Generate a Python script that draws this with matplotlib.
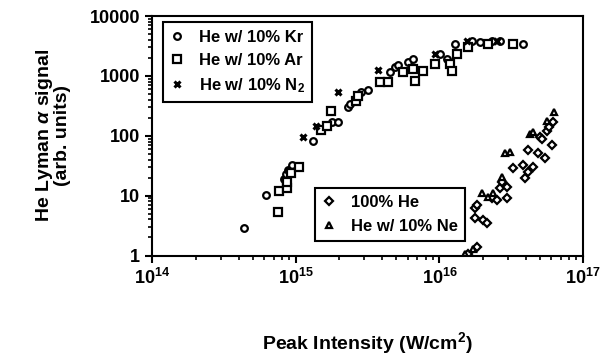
import numpy as np
import matplotlib
matplotlib.use('Agg')
import matplotlib.pyplot as plt
from matplotlib.ticker import FuncFormatter, LogLocator, NullFormatter

plt.rcParams['font.family'] = ['Liberation Sans', 'DejaVu Sans']
plt.rcParams['font.weight'] = 'bold'
plt.rcParams['mathtext.fontset'] = 'custom'
plt.rcParams['mathtext.rm'] = 'Liberation Sans:bold'
plt.rcParams['mathtext.bf'] = 'Liberation Sans:bold'
plt.rcParams['mathtext.it'] = 'Liberation Sans:italic'

# He w/ 10% Kr (circles)
kr_x = [4.34e14, 6.18e14, 8.25e14, 8.52e14, 8.8e14, 9.38e14, 1.31e15, 1.78e15, 1.96e15,
        2.30e15, 2.38e15, 2.84e15, 3.18e15, 4.52e15, 4.9e15, 5.14e15, 6.03e15, 6.53e15,
        1.01e16, 1.13e16, 1.28e16, 1.68e16, 1.91e16, 2.32e16, 2.64e16, 3.82e16]
kr_y = [2.9, 10.4, 19.2, 23.3, 27.2, 33, 83, 167, 167,
        298, 335, 533, 575, 1150, 1400, 1510, 1700, 1900,
        2310, 1900, 3400, 3820, 3680, 3820, 3820, 3400]

# He w/ 10% Ar (squares)
ar_x = [7.5e14, 7.62e14, 8.65e14, 8.65e14, 9.23e14, 1.05e15, 1.49e15, 1.64e15, 1.75e15,
        2.62e15, 2.70e15, 3.85e15, 4.38e15, 5.57e15, 6.53e15, 6.75e15, 7.67e15, 9.3e15,
        1.18e16, 1.22e16, 1.32e16, 1.58e16, 2.18e16, 3.25e16]
ar_y = [5.37, 12.1, 13.6, 17.1, 24.2, 30.5, 123, 143, 256,
        376, 456, 784, 784, 1150, 1290, 815, 1200, 1570,
        1570, 1200, 2310, 3030, 3400, 3400]

# He w/ 10% N2 (crosses)
n2_x = [1.12e15, 1.38e15, 1.96e15, 3.73e15, 9.3e15, 1.56e16, 2.52e16]
n2_y = [97, 143, 533, 1250, 2310, 3820, 3900]

# 100% He (diamonds)
he_x = [1.58e16, 1.82e16, 1.77e16, 2.01e16, 2.14e16, 1.77e16, 1.82e16, 2.32e16, 2.52e16,
        2.64e16, 2.95e16, 2.95e16, 2.72e16, 3.25e16, 3.82e16, 3.94e16, 4.14e16, 4.48e16,
        4.14e16, 4.86e16, 5.43e16, 5.01e16, 5.61e16, 6.08e16, 6.18e16, 5.2e16, 5.8e16]
he_y = [1.06, 1.39, 4.26, 3.94, 3.51, 6.27, 7.03, 9.2, 8.5,
        13.6, 14.1, 9.2, 17.1, 29.4, 33, 20, 25.2, 30.5,
        58.9, 52.5, 43.3, 97, 118, 71.4, 167, 90, 140]

# He w/ 10% Ne (triangles)
ne_x = [1.51e16, 1.71e16, 1.98e16, 2.18e16, 2.36e16, 2.72e16, 2.86e16, 3.1e16,
        4.27e16, 4.48e16, 5.61e16, 6.32e16]
ne_y = [1.06, 1.29, 11.2, 9.6, 11.2, 20.8, 52.5, 54.5,
        105, 114, 174, 246]

fig = plt.figure(figsize=(6.05, 3.56), dpi=100)
ax = fig.add_axes([0.252, 0.2823, 0.7116, 0.6727])

mk = dict(linestyle='none', color='black', markerfacecolor='white', markeredgewidth=1.6)
h1, = ax.plot(kr_x, kr_y, marker='o', markersize=4.8, label='He w/ 10% Kr', **mk)
h2, = ax.plot(ar_x, ar_y, marker='s', markersize=5.2, label='He w/ 10% Ar', **mk)
h3, = ax.plot(n2_x, n2_y, marker='x', markersize=5, linestyle='none', color='black',
              markeredgewidth=2.2, label=r'He w/ 10% N$_{\mathbf{2}}$')
h4, = ax.plot(he_x, he_y, marker='D', markersize=4, label='100% He', **mk)
h5, = ax.plot(ne_x, ne_y, marker='^', markersize=5, label='He w/ 10% Ne', **mk)

ax.set_xscale('log')
ax.set_yscale('log')
ax.set_xlim(1e14, 1e17)
ax.set_ylim(1, 1e4)

ax.xaxis.set_major_formatter(FuncFormatter(lambda v, p: r'$\mathbf{10^{%d}}$' % round(np.log10(v))))
ax.yaxis.set_major_formatter(FuncFormatter(lambda v, p: '%d' % round(v)))
ax.xaxis.set_minor_locator(LogLocator(base=10, subs=np.arange(2, 10)))
ax.yaxis.set_minor_locator(LogLocator(base=10, subs=np.arange(2, 10)))
ax.xaxis.set_minor_formatter(NullFormatter())
ax.yaxis.set_minor_formatter(NullFormatter())

ax.tick_params(which='major', direction='out', length=5, width=1.5, labelsize=13, pad=4)
ax.tick_params(which='minor', direction='out', length=3, width=1.2)
for s in ax.spines.values():
    s.set_linewidth(1.5)

ax.set_xlabel(r'Peak Intensity (W/cm$^{\mathbf{2}}$)', fontsize=14, fontweight='bold', labelpad=30)
ax.set_ylabel('He Lyman $\\alpha$ signal\n(arb. units)', fontsize=14, fontweight='bold',
              linespacing=0.95, labelpad=13)

leg1 = ax.legend(handles=[h1, h2, h3], loc='upper left', bbox_to_anchor=(0.024, 0.975),
                 borderaxespad=0, fancybox=False, edgecolor='black', framealpha=1,
                 prop={'size': 12, 'weight': 'bold'}, handlelength=0.8, handletextpad=0.9,
                 labelspacing=0.5, borderpad=0.45)
leg1.get_frame().set_linewidth(1.5)
ax.add_artist(leg1)

leg2 = ax.legend(handles=[h4, h5], loc='lower left', bbox_to_anchor=(0.377, 0.06),
                 borderaxespad=0, fancybox=False, edgecolor='black', framealpha=1,
                 prop={'size': 12, 'weight': 'bold'}, handlelength=0.8, handletextpad=0.9,
                 labelspacing=0.5, borderpad=0.45)
leg2.get_frame().set_linewidth(1.5)

fig.savefig('out.png', dpi=100)
